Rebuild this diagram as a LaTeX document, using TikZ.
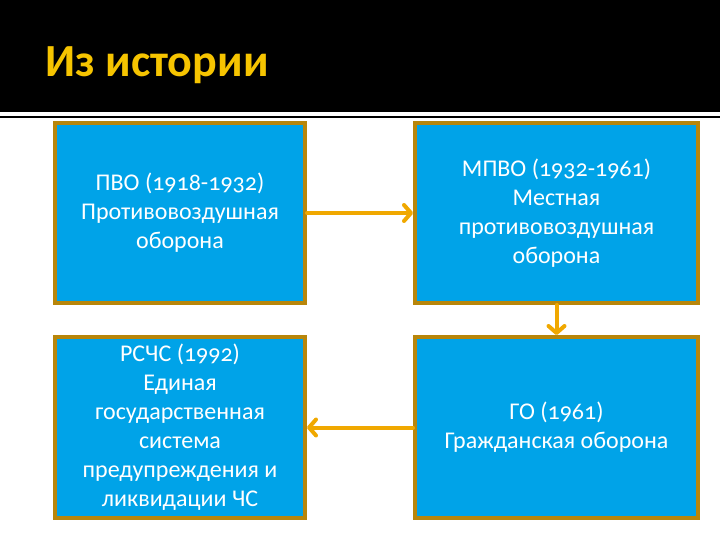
\documentclass[tikz,border=0pt]{standalone}
\usepackage{fontspec}
\setmainfont{Carlito}[Numbers=OldStyle]
\usepackage{xcolor}
\usetikzlibrary{arrows.meta, positioning}

\definecolor{boxfill}{HTML}{00A3E8}
\definecolor{boxrim}{HTML}{B8860B}
\definecolor{linkcol}{HTML}{F0A800}
\definecolor{titlecol}{HTML}{F6C400}

\begin{document}
\begin{tikzpicture}[x=1pt, y=-1pt,
  period/.style={draw=boxrim, line width=4pt, fill=boxfill, text=white,
    font=\fontsize{24}{29}\selectfont, align=center, inner sep=0pt},
  link/.style={draw=linkcol, line width=4pt, line cap=round,
    -{Straight Barb[length=7pt, width=16pt, round]}},
  heading/.style={font=\fontsize{46}{50}\selectfont\bfseries, text=titlecol}
]
\useasboundingbox (0,0) rectangle (720,540);
\fill[black] (0,0) rectangle (720,112);
\draw[black, line width=1.2pt] (0,117) -- (720,117);

\node[heading, anchor=west] (title) at (42,65) {Из истории};

% the four stages
\node[period, minimum width=250pt, minimum height=180pt] (pvo) at (180,213)
  {ПВО (1918-1932)\\Противовоздушная\\оборона};
\node[period, minimum width=283pt, minimum height=180pt] (mpvo) at (556.5,213)
  {МПВО (1932-1961)\\Местная\\противовоздушная\\оборона};
\node[period, minimum width=283pt, minimum height=181pt] (go) at (556.5,427.5)
  {ГО (1961)\\Гражданская оборона};
\node[period, minimum width=250pt, minimum height=181pt] (rschs) at (180,427.5)
  {РСЧС (1992)\\Единая\\государственная\\система\\предупреждения и\\ликвидации ЧС};

\draw[link] (pvo.east) -- (mpvo.west);
\draw[link] (mpvo.south) -- (go.north);
\draw[link] (go.west) -- (rschs.east);

\end{tikzpicture}
\end{document}
